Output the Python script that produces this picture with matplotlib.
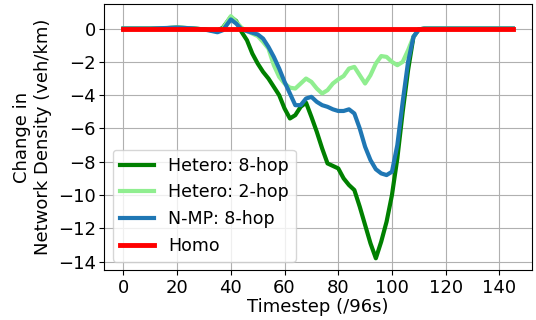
import matplotlib
matplotlib.use("Agg")
import matplotlib.pyplot as plt

# timestep sample points
t = [0, 5, 10, 15, 20, 25, 30, 33, 35, 37, 40, 42, 44, 46, 48, 50, 52, 54, 56, 58,
     60, 62, 64, 66, 68, 70, 72, 74, 76, 78, 80, 82, 84, 86, 88, 90, 92, 94, 96, 98,
     100, 102, 104, 106, 108, 110, 112, 115, 120, 130, 140, 145]

hetero_8hop = [0, 0, 0, 0.02, 0.06, 0.02, -0.05, -0.1, -0.12, 0.05, 0.7, 0.45, -0.2, -0.7, -1.5, -2.1, -2.6, -3.0, -3.5, -4.0,
               -4.8, -5.4, -5.2, -4.7, -4.45, -5.3, -6.2, -7.2, -8.1, -8.25, -8.4, -9.0, -9.4, -9.7, -10.7, -11.8, -12.9, -13.8, -12.8, -11.6,
               -10.0, -7.8, -5.0, -2.5, -0.5, -0.05, 0, 0, 0, 0, 0, 0]

hetero_2hop = [0, 0, 0, 0.02, 0.06, 0.02, -0.05, -0.1, -0.15, 0.0, 0.75, 0.4, 0.05, -0.15, -0.3, -0.45, -0.8, -1.2, -2.2, -2.9,
               -3.3, -3.55, -3.6, -3.3, -3.0, -3.2, -3.6, -3.9, -3.7, -3.3, -3.05, -2.85, -2.4, -2.3, -2.8, -3.3, -2.8, -2.1, -1.65, -1.7,
               -2.0, -2.2, -2.0, -1.3, -0.5, -0.05, 0, 0, 0, 0, 0, 0]

nmp_8hop = [0, 0, 0, 0.03, 0.06, 0.02, -0.05, -0.15, -0.22, -0.1, 0.55, 0.3, -0.05, -0.15, -0.25, -0.35, -0.6, -1.1, -1.7, -2.4,
            -3.2, -3.9, -4.6, -4.6, -4.2, -4.1, -4.4, -4.6, -4.7, -4.85, -4.95, -4.95, -4.85, -5.1, -6.0, -7.1, -7.9, -8.45, -8.7, -8.8,
            -8.6, -7.0, -4.4, -2.0, -0.5, -0.05, 0, 0, 0, 0, 0, 0]

homo = [0] * len(t)

plt.rcParams['font.size'] = 13
fig, ax = plt.subplots(figsize=(5.36, 3.2), dpi=100)
ax.plot(t, hetero_8hop, color='green', lw=3, label='Hetero: 8-hop')
ax.plot(t, hetero_2hop, color='lightgreen', lw=3, label='Hetero: 2-hop')
ax.plot(t, nmp_8hop, color='#1f77b4', lw=3, label='N-MP: 8-hop')
ax.plot(t, homo, color='red', lw=3.5, label='Homo')
ax.set_xlabel('Timestep (/96s)', labelpad=1)
ax.set_ylabel('Change in\nNetwork Density (veh/km)')
ax.set_xticks(range(0, 141, 20))
ax.set_yticks(range(-14, 1, 2))
ax.tick_params(pad=2.5)
ax.grid(True)
ax.legend(loc='lower left', fontsize=12.5)
plt.subplots_adjust(left=0.194, right=0.993, top=0.9875, bottom=0.155)
plt.savefig('out.png')
